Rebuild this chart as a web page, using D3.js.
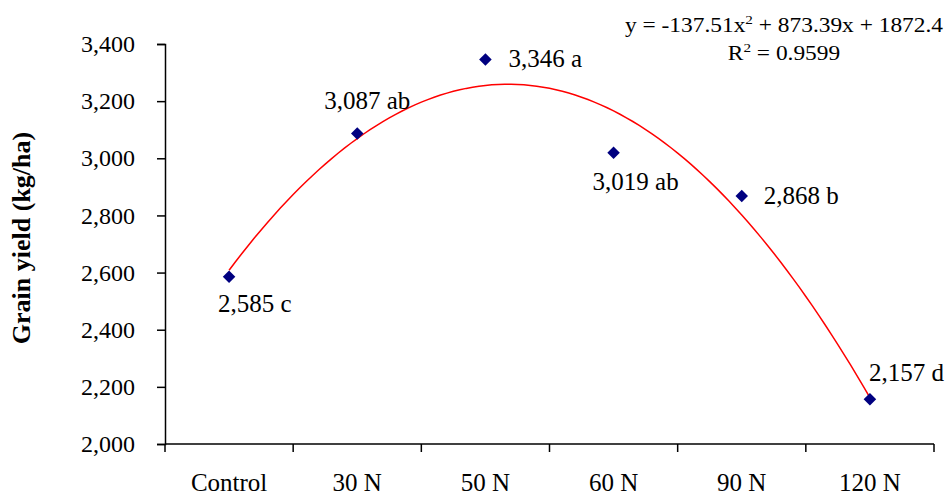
<!DOCTYPE html>
<html>
<head>
<meta charset="utf-8">
<script src="https://cdn.jsdelivr.net/npm/d3@7"></script>
<style>
  body { margin: 0; background: #fff; }
  svg text { font-family: "Liberation Serif", "Times New Roman", "DejaVu Serif", serif; fill: #000; }
</style>
</head>
<body>
<div id="chart-area"></div>
<script>
// data
const categories = ["Control", "30 N", "50 N", "60 N", "90 N", "120 N"];
const yields = [2585, 3087, 3346, 3019, 2868, 2157];
const letters = ["c", "ab", "a", "ab", "b", "d"];
// trendline coefficients as printed on the chart (a x^2 + b x + c)
const trendCoef = [-137.51, 873.39, 1872.4];
const rSquared = 0.9599;
const yTicks = [2000, 2200, 2400, 2600, 2800, 3000, 3200, 3400];

const serif = '"Liberation Serif", "Times New Roman", serif';

// set up width and height
const canvasWidth = 947;
const canvasHeight = 498;
const margin = { top: 44, bottom: 54, left: 165, right: 13 };
const w = canvasWidth - margin.left - margin.right;
const h = canvasHeight - margin.top - margin.bottom;

const svg = d3.select("#chart-area")
	.append("svg")
		.attr("width", canvasWidth)
		.attr("height", canvasHeight)
		.attr("font-family", serif)
	.append("g")
		.attr("transform", `translate(${margin.left}, ${margin.top})`);

// scales
const xScale = d3.scaleBand()
	.domain(categories)
	.range([0, w])

// continuous x (category index 1..6) for the trendline
const xIdx = d3.scaleLinear()
	.domain([0.5, categories.length + 0.5])
	.range([0, w])

const yScale = d3.scaleLinear()
	.domain([2000, 3400])
	.range([h, 0])

// y axis
svg.append("g")
	.attr("class", "y axis")
	.call(d3.axisLeft(yScale)
		.tickValues(yTicks)
		.tickFormat(d3.format(","))
		.tickSize(8)
		.tickPadding(22))
	.attr("font-family", serif)
	.call(g => g.select(".domain").attr("stroke-width", 1.5))
	.call(g => g.selectAll(".tick line").attr("stroke-width", 1.5))
	.call(g => g.selectAll(".tick text").attr("font-size", "24px"))

// x axis with ticks at band edges
const xAxisG = svg.append("g")
	.attr("class", "x axis")
	.attr("transform", `translate(0,${h})`)

xAxisG.append("line")
	.attr("x1", 0).attr("x2", w)
	.attr("stroke", "#000").attr("stroke-width", 1.5)

xAxisG.selectAll(".edge")
	.data(d3.range(categories.length + 1))
	.enter().append("line")
	.attr("class", "edge")
	.attr("x1", i => i * xScale.step())
	.attr("x2", i => i * xScale.step())
	.attr("y1", 0).attr("y2", 8)
	.attr("stroke", "#000").attr("stroke-width", 1.5)

xAxisG.selectAll(".lab")
	.data(categories)
	.enter().append("text")
	.attr("class", "lab")
	.attr("x", d => xScale(d) + xScale.bandwidth() / 2)
	.attr("y", 47)
	.attr("font-size", "25px")
	.attr("text-anchor", "middle")
	.text(d => d)

// y label
svg.append("text")
	.attr("transform", "rotate(-90)")
	.attr("x", margin.top - 238)
	.attr("y", 30 - margin.left)
	.attr("font-size", "26px")
	.attr("font-weight", "bold")
	.attr("text-anchor", "middle")
	.text("Grain yield (kg/ha)")

// trendline
const xs = d3.range(1, categories.length + 0.001, 0.05);
const line = d3.line()
	.x(d => xIdx(d))
	.y(d => yScale(trendCoef[0] * d * d + trendCoef[1] * d + trendCoef[2]))

svg.append("path")
	.datum(xs)
	.attr("d", line)
	.attr("fill", "none")
	.attr("stroke", "#ff0000")
	.attr("stroke-width", 1.5)

// points
const sym = d3.symbol().type(d3.symbolDiamond2).size(100);
svg.selectAll(".pt")
	.data(yields)
	.enter().append("path")
	.attr("class", "pt")
	.attr("d", sym)
	.attr("transform", (d, i) => `translate(${xScale(categories[i]) + xScale.bandwidth() / 2},${yScale(d)})`)
	.attr("fill", "#000080")

// data labels, placed like the original (dx, dy from the point)
const labelOffsets = [[-11, 35], [-33, -24], [23, 8], [-21, 37], [22, 8], [-1, -18]];
svg.selectAll(".dl")
	.data(yields)
	.enter().append("text")
	.attr("class", "dl")
	.attr("x", (d, i) => xScale(categories[i]) + xScale.bandwidth() / 2 + labelOffsets[i][0])
	.attr("y", (d, i) => yScale(d) + labelOffsets[i][1])
	.attr("font-size", "25px")
	.text((d, i) => d3.format(",")(d) + " " + letters[i])

// equation box, stretched horizontally like the original
const eqG = svg.append("g")
	.attr("transform", `translate(${784 - margin.left},0) scale(1.17,1)`)

const eq = eqG.append("text")
	.attr("x", 0)
	.attr("y", 32 - margin.top)
	.attr("text-anchor", "middle")
	.attr("font-size", "20px")
eq.append("tspan").text(`y = ${trendCoef[0]}x`)
eq.append("tspan").attr("dy", -8).attr("font-size", "13px").text("2")
eq.append("tspan").attr("dy", 8).text(` + ${trendCoef[1]}x + ${trendCoef[2]}`)

const r2 = eqG.append("text")
	.attr("x", 0)
	.attr("y", 60 - margin.top)
	.attr("text-anchor", "middle")
	.attr("font-size", "20px")
r2.append("tspan").text("R")
r2.append("tspan").attr("dy", -8).attr("font-size", "13px").text("2")
r2.append("tspan").attr("dy", 8).text(` = ${rSquared}`)
</script>
</body>
</html>
